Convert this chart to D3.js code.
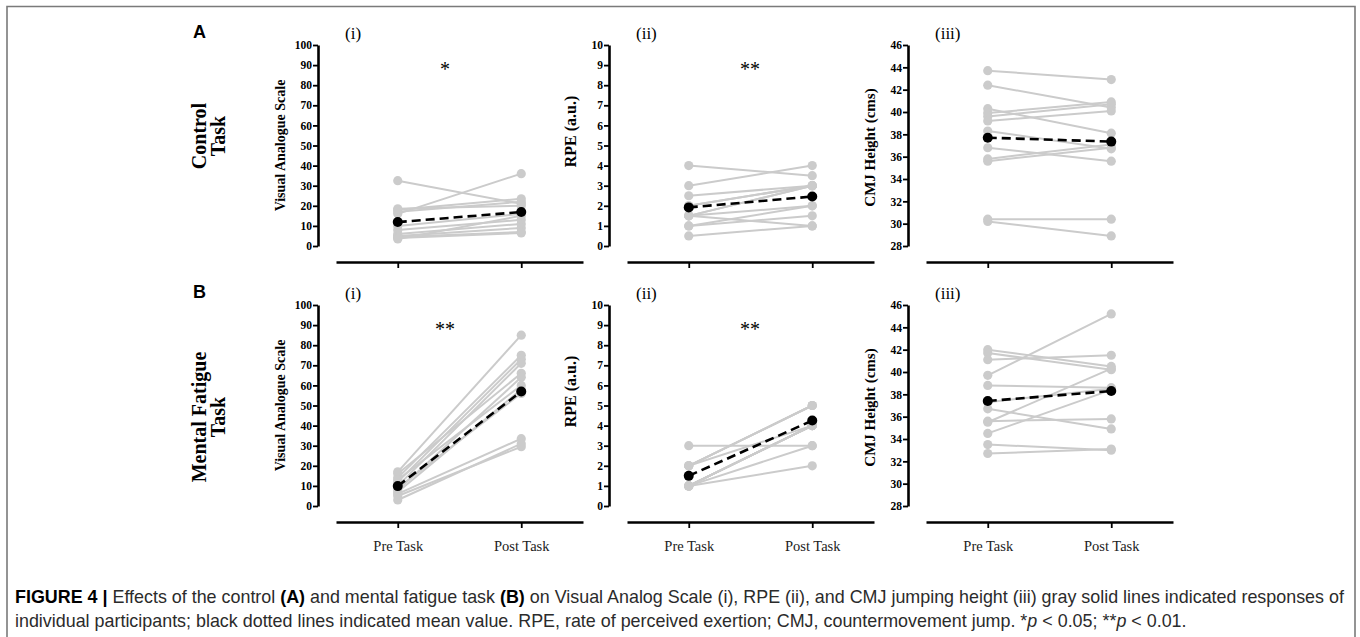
<!DOCTYPE html>
<html>
<head>
<meta charset="utf-8">
<script src="https://cdn.jsdelivr.net/npm/d3@7"></script>
<style>
    body { margin: 0; background: #fff; }
    svg { display: block; }
</style>
</head>
<body>
<svg id="figure" width="1360" height="637"></svg>
<script>

//*************************************************
// Data (one value per participant)
//*************************************************
var conditions = ['Pre Task', 'Post Task'];
var panelNumerals = ['(i)', '(ii)', '(iii)'];
var rowLetters = ['A', 'B'];
var rowTitles = [['Control', 'Task'], ['Mental Fatigue', 'Task']];
var yTitles = ['Visual Analogue Scale', 'RPE (a.u.)', 'CMJ Height (cms)'];
var significance = [['*', '**', ''], ['**', '**', '']];

var vasTicks = [0, 10, 20, 30, 40, 50, 60, 70, 80, 90, 100];
var rpeTicks = [0, 1, 2, 3, 4, 5, 6, 7, 8, 9, 10];
var cmjTicks = [28, 30, 32, 34, 36, 38, 40, 42, 44, 46];

// Control task
var vasControlPre  = [32.5, 16, 18, 17, 10, 8, 6, 5, 4.5, 4, 3.5, 18.5];
var vasControlPost = [21, 36, 23.5, 22, 16, 13, 11, 9, 7, 6.5, 15, 20];
var vasControlMean = [11.9, 16.9];

var rpeControlPre  = [4, 3, 2.5, 2, 1.5, 1.5, 1.5, 1.5, 1, 1, 0.5, 2];
var rpeControlPost = [3.5, 4, 3, 3, 3, 3, 1, 2, 1.5, 2, 1, 3];
var rpeControlMean = [1.92, 2.46];

var cmjControlPre  = [43.7, 42.4, 40.3, 39.9, 39.6, 39.2, 38.3, 36.8, 35.8, 35.6, 30.4, 30.2];
var cmjControlPost = [42.9, 40.4, 38.1, 40.9, 40.7, 40.1, 36.7, 35.6, 37.1, 36.8, 30.4, 28.9];
var cmjControlMean = [37.7, 37.35];

// Mental fatigue task
var vasFatiguePre  = [17, 14, 12, 10, 16, 8, 13, 7, 6, 5, 3, 9];
var vasFatiguePost = [85, 75, 73, 71, 66, 64, 60, 58, 33.5, 29.5, 31, 56];
var vasFatigueMean = [9.9, 57];

var rpeFatiguePre  = [3, 2, 2, 2, 2, 1, 1, 1, 1, 1, 1, 1];
var rpeFatiguePost = [3, 5, 5, 5, 4, 4, 4, 4, 3, 2, 4, 4];
var rpeFatigueMean = [1.5, 4.25];

var cmjFatiguePre  = [42.0, 41.7, 41.1, 39.7, 38.8, 36.7, 35.6, 35.5, 34.5, 33.5, 32.7, 37.3];
var cmjFatiguePost = [40.5, 40.2, 41.5, 45.2, 38.6, 34.9, 35.8, 40.3, 38.4, 33.0, 33.1, 38.5];
var cmjFatigueMean = [37.4, 38.3];

var captionLine1 = [
    { t: 'FIGURE 4 | ', b: true }, { t: 'Effects of the control ' }, { t: '(A)', b: true },
    { t: ' and mental fatigue task ' }, { t: '(B)', b: true },
    { t: ' on Visual Analog Scale (i), RPE (ii), and CMJ jumping height (iii) gray solid lines indicated responses of' }
];
var captionLine2 = [
    { t: 'individual participants; black dotted lines indicated mean value. RPE, rate of perceived exertion; CMJ, countermovement jump. *' },
    { t: 'p', i: true }, { t: ' < 0.05; **' }, { t: 'p', i: true }, { t: ' < 0.01.' }
];

function pairs(pre, post){
    return pre.map(function (v, i){ return [v, post[i]]; });
}

//*************************************************
// Reusable paired pre/post plot
//*************************************************
d3.pairedPlot = function (){

    var _axisX = 318;
    var _top = 45;
    var _bottom = 246;
    var _baseY = 262;
    var _domain = [0, 100];
    var _ticks = vasTicks;
    var _showLabels = false;
    var _title = '';
    var _titleSize = 14;
    var _titleShift = 0;
    var _lineColor = '#cbcbcb';

    function chart(selection){
        selection.each(function (data){
            var g = d3.select(this);

            var y = d3.scaleLinear().domain(_domain).range([_bottom, _top]);
            var x = d3.scalePoint().domain(conditions)
                .range([_axisX + 18, _axisX + 265]).padding(0.5);

            //----------------------------------------------------------------------------------
            // axes
            //----------------------------------------------------------------------------------
            var yAxis = g.append('g')
                .attr('transform', 'translate(' + _axisX + ',0)')
                .call(d3.axisLeft(y).tickValues(_ticks).tickSize(5).tickSizeOuter(0).tickPadding(1));
            yAxis.select('.domain').attr('stroke-width', 2.6);
            yAxis.selectAll('.tick line').attr('stroke-width', 1.8);
            yAxis.selectAll('.tick text')
                .style('font-family', '"Liberation Serif", "Times New Roman", serif')
                .style('font-weight', 'bold').style('font-size', '11.5px').attr('fill', '#000');

            var xAxis = g.append('g')
                .attr('transform', 'translate(0,' + _baseY + ')')
                .call(d3.axisBottom(x).tickSize(6).tickSizeOuter(0).tickPadding(13)
                    .tickFormat(_showLabels ? null : function (){ return ''; }));
            xAxis.select('.domain').attr('stroke-width', 2.6);
            xAxis.selectAll('.tick line').attr('stroke-width', 1.8);
            xAxis.selectAll('.tick text')
                .style('font-family', '"Liberation Serif", "Times New Roman", serif')
                .style('font-size', '14.5px').attr('fill', '#222');

            g.append('text')
                .attr('transform', 'translate(' + (_axisX - 33) + ',' + ((_top + _bottom) / 2 + _titleShift) + ') rotate(-90)')
                .attr('text-anchor', 'middle')
                .style('font-family', '"Liberation Serif", "Times New Roman", serif')
                .style('font-weight', 'bold').style('font-size', _titleSize + 'px')
                .text(_title);

            //----------------------------------------------------------------------------------
            // individual participants
            //----------------------------------------------------------------------------------
            var line = d3.line()
                .x(function (d, i){ return x(conditions[i]); })
                .y(function (d){ return y(d); });

            g.selectAll('.subject').data(data.subjects).enter().append('path')
                .attr('class', 'subject')
                .attr('d', line)
                .attr('fill', 'none').attr('stroke', _lineColor).attr('stroke-width', 2);

            data.subjects.forEach(function (s){
                g.selectAll(null).data(s).enter().append('circle')
                    .attr('cx', function (d, i){ return x(conditions[i]); })
                    .attr('cy', function (d){ return y(d); })
                    .attr('r', 4.6).attr('fill', _lineColor);
            });

            //----------------------------------------------------------------------------------
            // group mean
            //----------------------------------------------------------------------------------
            g.append('path').datum(data.mean)
                .attr('d', line)
                .attr('fill', 'none').attr('stroke', '#000').attr('stroke-width', 2.6)
                .attr('stroke-dasharray', '9,5');
            g.selectAll('.mean').data(data.mean).enter().append('circle')
                .attr('class', 'mean')
                .attr('cx', function (d, i){ return x(conditions[i]); })
                .attr('cy', function (d){ return y(d); })
                .attr('r', 5).attr('fill', '#000');
        });
    }

    chart.axisX = function (v){ if (!arguments.length){ return _axisX; } _axisX = v; return chart; };
    chart.rows = function (top, bottom, baseY){ _top = top; _bottom = bottom; _baseY = baseY; return chart; };
    chart.domain = function (v){ if (!arguments.length){ return _domain; } _domain = v; return chart; };
    chart.ticks = function (v){ if (!arguments.length){ return _ticks; } _ticks = v; return chart; };
    chart.showLabels = function (v){ if (!arguments.length){ return _showLabels; } _showLabels = v; return chart; };
    chart.title = function (text, size, shift){ _title = text; _titleSize = size; _titleShift = shift; return chart; };

    return chart;
};

//*************************************************
// Layout
//*************************************************
var svg = d3.select('#figure');
var serif = '"Liberation Serif", "Times New Roman", serif';
var sans = '"Liberation Sans", Arial, Helvetica, sans-serif';

svg.append('path')
    .attr('d', 'M7,640V6.5H1355V640')
    .attr('fill', 'none').attr('stroke', '#7a7a7a').attr('stroke-width', 1.6);

var colAxisX = [318, 609, 908];
var rowGeom = [{ top: 45, bottom: 246, base: 262 }, { top: 305, bottom: 506, base: 522 }];
var starX = [445, 750];

var panelData = [
    [
        { subjects: pairs(vasControlPre, vasControlPost), mean: vasControlMean },
        { subjects: pairs(rpeControlPre, rpeControlPost), mean: rpeControlMean },
        { subjects: pairs(cmjControlPre, cmjControlPost), mean: cmjControlMean }
    ],
    [
        { subjects: pairs(vasFatiguePre, vasFatiguePost), mean: vasFatigueMean },
        { subjects: pairs(rpeFatiguePre, rpeFatiguePost), mean: rpeFatigueMean },
        { subjects: pairs(cmjFatiguePre, cmjFatiguePost), mean: cmjFatigueMean }
    ]
];
var domains = [[0, 100], [0, 10], [28, 46]];
var tickSets = [vasTicks, rpeTicks, cmjTicks];
var titleSizes = [14, 16, 15];
var titleShifts = [0, -14, 2];

rowGeom.forEach(function (r, ri){
    svg.append('text')
        .attr('x', 193).attr('y', r.base - 224)
        .style('font-family', sans).style('font-weight', 'bold').style('font-size', '18px')
        .text(rowLetters[ri]);

    var rt = svg.append('text')
        .attr('transform', 'translate(199,' + (ri === 0 ? 136 : 417) + ') rotate(-90)')
        .attr('text-anchor', 'middle')
        .style('font-family', serif).style('font-weight', 'bold').style('font-size', '20px');
    rowTitles[ri].forEach(function (t, k){
        rt.append('tspan').attr('x', 0).attr('dy', k === 0 ? '0.35em' : 19).text(t);
    });

    colAxisX.forEach(function (ax, ci){
        var plot = d3.pairedPlot()
            .axisX(ax)
            .rows(r.top, r.bottom, r.base)
            .domain(domains[ci])
            .ticks(tickSets[ci])
            .showLabels(ri === 1)
            .title(yTitles[ci], titleSizes[ci], titleShifts[ci]);

        svg.append('g').datum(panelData[ri][ci]).call(plot);

        svg.append('text')
            .attr('x', ax + 27).attr('y', r.base - 223)
            .style('font-family', serif).style('font-size', '17px')
            .text(panelNumerals[ci]);

        if (significance[ri][ci]){
            svg.append('text')
                .attr('x', starX[ci]).attr('y', r.base - 186)
                .attr('text-anchor', 'middle')
                .style('font-family', serif).style('font-size', '20px')
                .text(significance[ri][ci]);
        }
    });
});

//*************************************************
// Caption
//*************************************************
function captionLine(parts, y){
    var t = svg.append('text').attr('x', 15).attr('y', y)
        .style('font-family', sans).style('font-size', '15px').attr('fill', '#2b2b2b');
    parts.forEach(function (p){
        t.append('tspan')
            .style('font-weight', p.b ? 'bold' : null)
            .style('font-style', p.i ? 'italic' : null)
            .attr('fill', p.b ? '#000' : null)
            .text(p.t);
    });
    return t;
}
var cap1 = captionLine(captionLine1, 603);
var cap2 = captionLine(captionLine2, 627);
var fitSize = 15 * 1330 / cap1.node().getComputedTextLength();
cap1.style('font-size', fitSize + 'px');
cap2.style('font-size', fitSize + 'px');

</script>
</body>
</html>
